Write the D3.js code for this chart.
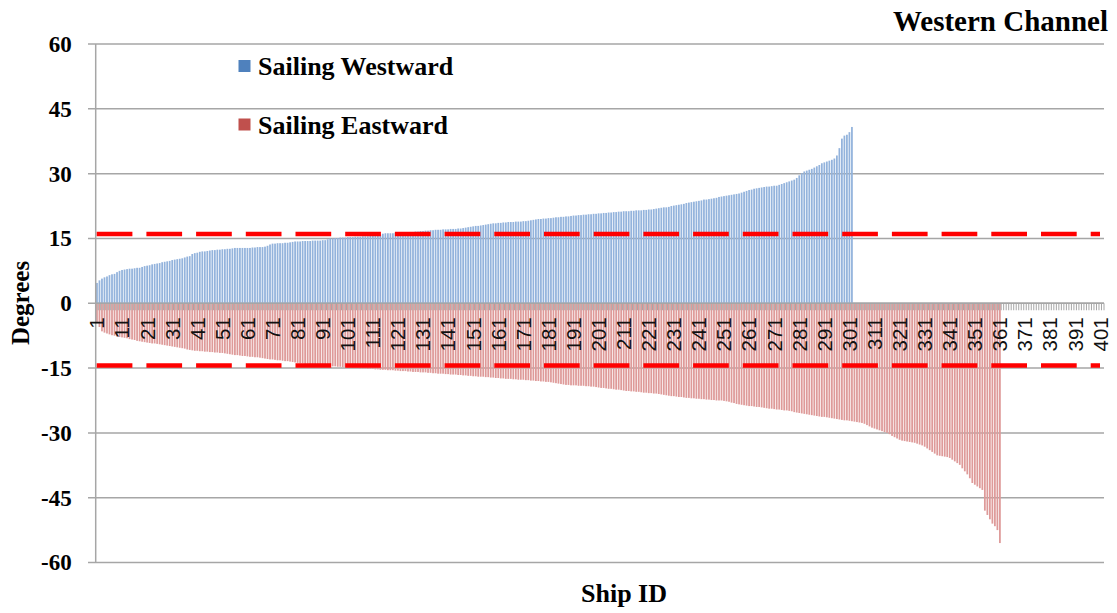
<!DOCTYPE html>
<html><head><meta charset="utf-8">
<script src="https://cdn.jsdelivr.net/npm/d3@7"></script>
<style>
html,body{margin:0;padding:0;background:#fff;}
svg{display:block;}
</style></head>
<body>
<svg id="chart" width="1117" height="613"></svg>
<script>
// ---- data ----
const title = "Western Channel";
const seriesNames = ["Sailing Westward", "Sailing Eastward"];
const categoryCount = 402;
const yTicks = [-60, -45, -30, -15, 0, 15, 30, 45, 60];
const xTickLabels = [1,11,21,31,41,51,61,71,81,91,101,111,121,131,141,151,161,171,181,191,201,211,221,231,241,251,261,271,281,291,301,311,321,331,341,351,361,371,381,391,401];
const thresholdWest = 16.0;
const thresholdEast = -14.4;
const westward = [
4.7,5.3,5.7,6.0,6.2,6.5,6.7,6.8,7.2,7.5,
7.7,7.8,7.9,8.0,8.0,8.1,8.2,8.2,8.4,8.6,
8.7,8.8,9.0,9.1,9.2,9.3,9.5,9.6,9.7,9.8,
10.0,10.1,10.2,10.3,10.4,10.6,10.8,10.9,11.4,11.6,
11.7,11.9,12.0,12.0,12.1,12.2,12.3,12.3,12.4,12.4,
12.5,12.5,12.6,12.6,12.7,12.8,12.8,12.8,12.8,12.8,
12.8,12.8,12.9,12.9,13.0,13.0,13.0,13.1,13.3,13.6,
13.8,13.8,13.9,13.9,13.9,14.0,14.0,14.1,14.2,14.3,
14.3,14.3,14.4,14.4,14.4,14.4,14.5,14.5,14.5,14.5,
14.6,14.6,14.8,15.0,15.0,15.1,15.1,15.2,15.2,15.2,
15.3,15.3,15.3,15.4,15.4,15.4,15.5,15.5,15.5,15.6,
15.6,15.7,15.8,15.9,16.1,16.2,16.2,16.2,16.2,16.3,
16.3,16.3,16.4,16.4,16.4,16.5,16.5,16.6,16.6,16.7,
16.7,16.8,16.8,16.9,16.9,17.0,17.0,17.0,17.1,17.1,
17.1,17.2,17.2,17.2,17.3,17.3,17.4,17.5,17.6,17.7,
17.8,17.9,17.9,18.0,18.1,18.2,18.3,18.4,18.5,18.5,
18.6,18.6,18.7,18.7,18.8,18.8,18.8,18.9,18.9,18.9,
19.0,19.0,19.1,19.2,19.3,19.4,19.5,19.5,19.6,19.6,
19.7,19.7,19.8,19.9,19.9,20.0,20.0,20.1,20.1,20.2,
20.3,20.3,20.4,20.4,20.5,20.5,20.6,20.6,20.7,20.7,
20.8,20.8,20.9,20.9,21.0,21.0,21.1,21.1,21.2,21.2,
21.3,21.3,21.3,21.4,21.4,21.5,21.5,21.5,21.6,21.6,
21.7,21.7,21.8,21.9,22.0,22.1,22.2,22.2,22.3,22.5,
22.6,22.7,22.8,22.9,23.0,23.2,23.3,23.4,23.5,23.6,
23.7,23.8,24.0,24.0,24.1,24.2,24.3,24.4,24.6,24.7,
24.8,24.9,25.0,25.1,25.2,25.3,25.4,25.6,25.8,26.0,
26.2,26.3,26.5,26.6,26.7,26.8,26.9,27.0,27.0,27.1,
27.2,27.2,27.4,27.6,27.8,28.0,28.2,28.4,28.6,29.0,
29.6,30.1,30.5,30.7,30.9,31.1,31.4,31.7,32.0,32.4,
32.6,32.8,33.0,33.2,33.5,34.2,35.9,38.1,38.8,39.0,
39.6,40.8];
const eastward = [
-4.6,-5.5,-6.5,-6.8,-7.0,-7.2,-7.4,-7.5,-7.7,-7.8,
-7.9,-8.0,-8.1,-8.3,-8.4,-8.5,-8.7,-8.8,-8.9,-9.0,
-9.1,-9.2,-9.3,-9.3,-9.4,-9.5,-9.6,-9.7,-9.8,-9.9,
-10.0,-10.1,-10.2,-10.3,-10.4,-10.5,-10.7,-10.8,-10.9,-11.0,
-11.0,-11.1,-11.1,-11.2,-11.2,-11.3,-11.3,-11.4,-11.4,-11.5,
-11.5,-11.6,-11.7,-11.8,-11.9,-12.0,-12.0,-12.1,-12.2,-12.2,
-12.3,-12.4,-12.4,-12.5,-12.5,-12.6,-12.7,-12.8,-12.9,-13.0,
-13.0,-13.1,-13.2,-13.2,-13.3,-13.4,-13.4,-13.5,-13.6,-13.7,
-13.8,-13.9,-13.9,-14.0,-14.0,-14.1,-14.2,-14.2,-14.3,-14.3,
-14.4,-14.4,-14.5,-14.5,-14.6,-14.6,-14.7,-14.7,-14.8,-14.8,
-14.9,-14.9,-15.0,-15.0,-15.0,-15.1,-15.1,-15.1,-15.2,-15.2,
-15.2,-15.3,-15.3,-15.4,-15.4,-15.4,-15.5,-15.5,-15.5,-15.6,
-15.6,-15.7,-15.7,-15.7,-15.8,-15.8,-15.9,-15.9,-15.9,-16.0,
-16.0,-16.0,-16.1,-16.1,-16.2,-16.2,-16.3,-16.3,-16.3,-16.4,
-16.4,-16.5,-16.5,-16.5,-16.6,-16.6,-16.7,-16.7,-16.8,-16.8,
-16.9,-16.9,-17.0,-17.0,-17.0,-17.1,-17.1,-17.2,-17.2,-17.3,
-17.3,-17.4,-17.4,-17.5,-17.5,-17.5,-17.6,-17.6,-17.7,-17.7,
-17.7,-17.8,-17.8,-17.9,-17.9,-18.0,-18.0,-18.1,-18.1,-18.2,
-18.2,-18.3,-18.4,-18.5,-18.6,-18.7,-18.8,-18.9,-18.9,-19.0,
-19.0,-19.0,-19.1,-19.1,-19.1,-19.2,-19.2,-19.3,-19.3,-19.4,
-19.5,-19.6,-19.6,-19.7,-19.8,-19.8,-19.9,-20.0,-20.0,-20.1,
-20.2,-20.3,-20.3,-20.4,-20.4,-20.5,-20.5,-20.6,-20.7,-20.7,
-20.8,-20.8,-20.9,-20.9,-21.0,-21.1,-21.2,-21.3,-21.4,-21.5,
-21.5,-21.6,-21.7,-21.7,-21.8,-21.9,-21.9,-22.0,-22.0,-22.1,
-22.1,-22.2,-22.2,-22.3,-22.3,-22.4,-22.4,-22.5,-22.5,-22.5,
-22.6,-22.7,-22.8,-23.0,-23.1,-23.3,-23.4,-23.5,-23.6,-23.7,
-23.8,-23.8,-23.9,-24.0,-24.0,-24.1,-24.2,-24.3,-24.4,-24.4,
-24.5,-24.6,-24.6,-24.7,-24.8,-24.8,-24.9,-25.0,-25.2,-25.3,
-25.4,-25.5,-25.6,-25.7,-25.8,-25.9,-26.0,-26.1,-26.2,-26.3,
-26.3,-26.4,-26.5,-26.6,-26.7,-26.8,-26.9,-27.0,-27.1,-27.1,
-27.2,-27.3,-27.4,-27.5,-27.6,-27.7,-27.9,-28.2,-28.5,-28.8,
-29.0,-29.2,-29.4,-29.6,-29.8,-30.0,-30.3,-30.7,-31.0,-31.3,
-31.6,-31.8,-31.9,-32.0,-32.1,-32.2,-32.3,-32.5,-32.7,-32.9,
-33.2,-33.6,-34.0,-34.4,-34.8,-35.2,-35.3,-35.4,-35.5,-35.6,
-35.8,-36.2,-36.6,-37.0,-37.4,-38.2,-38.9,-39.6,-40.5,-41.6,
-42.0,-42.4,-42.8,-43.2,-48.0,-49.0,-50.0,-51.0,-51.6,-52.5,-55.5];

// ---- layout ----
const svg = d3.select("#chart");
const plotL = 95.7, plotR = 1104, plotT = 44, plotB = 562.5;
const serif = "'Liberation Serif','Times New Roman',serif";
const cats = d3.range(1, categoryCount + 1);
const x = d3.scaleBand().domain(cats).range([plotL, plotR]).paddingInner(0.3).paddingOuter(0.15);
const xb = d3.scaleBand().domain(cats).range([plotL, plotR]);
const y = d3.scaleLinear().domain([-60, 60]).range([plotB, plotT]);

// gridlines
svg.append("g").selectAll("line").data(yTicks).join("line")
  .attr("x1", 88).attr("x2", plotR)
  .attr("y1", d => y(d)).attr("y2", d => y(d))
  .attr("stroke", "#a6a6a6").attr("stroke-width", 1.5);

// bars
const westData = westward.map((v, i) => ({c: i + 1, v}));
const eastData = eastward.map((v, i) => ({c: i + 1, v}));
svg.append("g").selectAll("rect").data(westData).join("rect")
  .attr("x", d => x(d.c)).attr("width", x.bandwidth())
  .attr("y", d => y(d.v)).attr("height", d => y(0) - y(d.v))
  .attr("fill", "#93b3dc");
svg.append("g").selectAll("rect").data(eastData).join("rect")
  .attr("x", d => x(d.c)).attr("width", x.bandwidth())
  .attr("y", y(0)).attr("height", d => y(d.v) - y(0))
  .attr("fill", "#de9a99");

// x tick marks at category boundaries
svg.append("g").selectAll("line").data(cats).join("line")
  .attr("x1", d => xb(d)).attr("x2", d => xb(d))
  .attr("y1", y(0)).attr("y2", y(0) + 7)
  .attr("stroke", "#a6a6a6").attr("stroke-width", 1);
svg.append("line").attr("x1", plotR).attr("x2", plotR).attr("y1", y(0)).attr("y2", y(0) + 7)
  .attr("stroke", "#a6a6a6");

// zero axis line
svg.append("line").attr("x1", plotL).attr("x2", plotR).attr("y1", y(0)).attr("y2", y(0))
  .attr("stroke", "#a6a6a6").attr("stroke-width", 1.5);

// y axis line
svg.append("line").attr("x1", plotL).attr("x2", plotL).attr("y1", plotT).attr("y2", plotB)
  .attr("stroke", "#a6a6a6").attr("stroke-width", 1.5);

// x tick labels via axis
const xAxis = d3.axisBottom(xb).tickValues(xTickLabels).tickSize(0).tickPadding(0);
const gx = svg.append("g").attr("transform", `translate(0,${y(0)})`).call(xAxis);
gx.select(".domain").remove();
gx.selectAll("text")
  .attr("transform", "rotate(-90)")
  .attr("x", -14).attr("y", 0).attr("dy", "0.36em")
  .attr("text-anchor", "end")
  .attr("font-family", "'Liberation Sans',Arial,sans-serif")
  .attr("font-size", 20.5).attr("fill", "#111");

// y axis labels
const yAxis = d3.axisLeft(y).tickValues(yTicks).tickFormat(d => String(d)).tickSize(0).tickPadding(24);
const gy = svg.append("g").attr("transform", `translate(${plotL},0)`).call(yAxis);
gy.select(".domain").remove();
gy.selectAll("text").attr("font-family", serif).attr("font-weight", "bold")
  .attr("font-size", 23).attr("fill", "#000");

// threshold dashed lines
[thresholdWest, thresholdEast].forEach(t => {
  svg.append("line").attr("x1", 96.7).attr("x2", 1100)
    .attr("y1", y(t)).attr("y2", y(t))
    .attr("stroke", "#ff0000").attr("stroke-width", 4.5)
    .attr("stroke-dasharray", "35.7,14");
});

// legend
const legendColors = ["#4f81bd", "#c0504d"];
const legendY = [66, 124.5];
seriesNames.forEach((n, i) => {
  svg.append("rect").attr("x", 238.5).attr("y", legendY[i] - 6).attr("width", 12).attr("height", 12)
    .attr("fill", legendColors[i]);
  svg.append("text").attr("x", 258).attr("y", legendY[i]).attr("dy", "0.35em")
    .attr("font-family", serif).attr("font-weight", "bold").attr("font-size", 26)
    .text(n);
});

// title
svg.append("text").attr("x", 1108).attr("y", 31).attr("text-anchor", "end")
  .attr("font-family", serif).attr("font-weight", "bold").attr("font-size", 29)
  .text(title);

// axis titles
svg.append("text").attr("x", 624).attr("y", 602).attr("text-anchor", "middle")
  .attr("font-family", serif).attr("font-weight", "bold").attr("font-size", 26)
  .text("Ship ID");
svg.append("text").attr("transform", "translate(29,303) rotate(-90)").attr("text-anchor", "middle")
  .attr("font-family", serif).attr("font-weight", "bold").attr("font-size", 25)
  .text("Degrees");
</script>
</body></html>
